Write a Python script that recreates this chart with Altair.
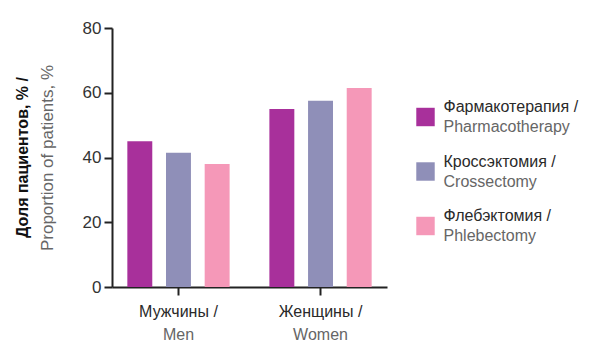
import altair as alt
import pandas as pd

groups = ["Мужчины /", "Женщины /"]
groups_en = ["Men", "Women"]
methods = ["Фармакотерапия /", "Кроссэктомия /", "Флебэктомия /"]
methods_en = ["Pharmacotherapy", "Crossectomy", "Phlebectomy"]
values_men = [45, 41.5, 38]
values_women = [55, 57.5, 61.5]
colors = ["#a8309b", "#8f8fb8", "#f598b8"]
y_ticks = [0, 20, 40, 60, 80]
y_title_ru = "Доля пациентов, % /"
y_title_en = "Proportion of patients, %"

FONT = "Liberation Sans"
DARK = "#2a2a2a"
GRAY = "#666666"
W, H = 275, 259

rows = []
for g, vals in zip(groups, [values_men, values_women]):
    for m, v in zip(methods, vals):
        rows.append({"group": g, "method": m, "value": v})
df = pd.DataFrame(rows)
df_grp = pd.DataFrame({"group": groups, "en": groups_en})
df_title = pd.DataFrame({"t": [y_title_ru]})
df_leg = pd.DataFrame({"method": methods, "en": methods_en})

color_scale = alt.Scale(domain=methods, range=colors)
x_enc = alt.X(
    "group:N",
    sort=groups,
    scale=alt.Scale(paddingInner=0.28, paddingOuter=0.108),
    axis=alt.Axis(
        title=None, labelAngle=0, labelFont=FONT, labelFontSize=16,
        labelColor=DARK, labelPadding=8, tickSize=8, tickWidth=2,
        domainWidth=2, tickColor="#222222", domainColor="#222222",
    ),
)

bars = alt.Chart(df).mark_bar().encode(
    x=x_enc,
    xOffset=alt.XOffset(
        "method:N", sort=methods,
        scale=alt.Scale(paddingInner=0.355, paddingOuter=0),
    ),
    y=alt.Y(
        "value:Q",
        scale=alt.Scale(domain=[0, 80]),
        axis=alt.Axis(
            values=y_ticks, grid=False, title=y_title_en,
            titleFont=FONT, titleFontSize=17, titleFontWeight="normal",
            titleColor=GRAY, titlePadding=26,
            labelFont=FONT, labelFontSize=17, labelColor="#333333",
            labelPadding=3, tickSize=8, tickWidth=2, domainWidth=2,
            tickColor="#222222", domainColor="#222222",
        ),
    ),
    color=alt.Color("method:N", sort=methods, scale=color_scale, legend=None),
)

x_second = alt.Chart(df_grp).mark_text(
    font=FONT, fontSize=16, color=GRAY, baseline="middle", align="center"
).encode(x=alt.X("group:N", sort=groups), y=alt.value(H + 48), text="en:N")

y_bold = alt.Chart(df_title).mark_text(
    font=FONT, fontSize=16, fontWeight="bold", color="#111111",
    angle=270, baseline="middle", align="center",
).encode(x=alt.value(-89), y=alt.value(H / 2), text="t:N")

main = alt.layer(bars, x_second, y_bold).properties(width=W, height=H)

leg_y = alt.Y("method:N", sort=methods,
              scale=alt.Scale(domain=methods, range=[89, 198], padding=0),
              axis=None)

squares = alt.Chart(df_leg).mark_square(size=340, opacity=1).encode(
    y=leg_y,
    color=alt.Color("method:N", scale=color_scale, legend=None),
)
line1 = alt.Chart(df_leg).mark_text(
    align="left", baseline="middle", dx=18, dy=-10, font=FONT, fontSize=16,
    fontWeight="normal", color=DARK
).encode(y=leg_y, text="method:N")
line2 = alt.Chart(df_leg).mark_text(
    align="left", baseline="middle", dx=18, dy=10, font=FONT, fontSize=16,
    fontWeight="normal", color=GRAY
).encode(y=leg_y, text="en:N")

legend = alt.layer(squares, line1, line2).properties(width=19, height=H)

chart = alt.hconcat(main, legend, spacing=29).properties(
    padding={"left": 7, "top": 11, "right": 5, "bottom": 5}
).configure_view(strokeWidth=0)

chart.save("out.html", embed_options={"renderer": "svg", "actions": False})
